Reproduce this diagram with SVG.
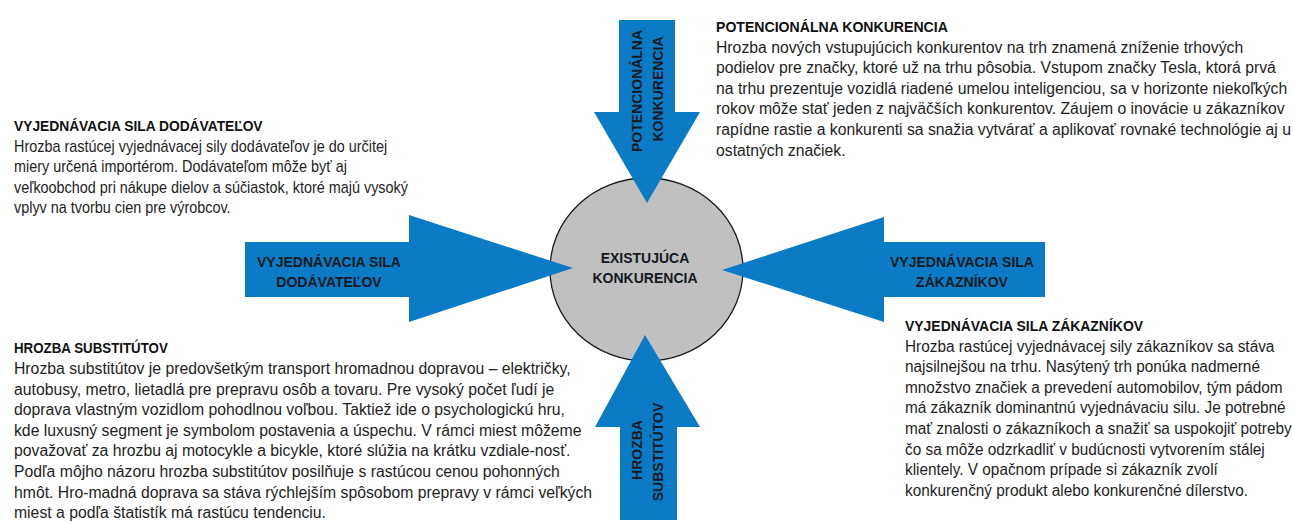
<svg xmlns="http://www.w3.org/2000/svg" width="1293" height="522" viewBox="0 0 1293 522">
<style>
.bg{fill:#ffffff}
.body{font-family:"Liberation Sans",Arial,sans-serif;font-size:16px;fill:#1e1e1e}
.title{font-family:"Liberation Sans",Arial,sans-serif;font-size:15.5px;font-weight:bold;fill:#111111}
.lbl{font-family:"Liberation Sans",Arial,sans-serif;font-size:14px;font-weight:bold;fill:#151a22;text-anchor:middle}
.arrow{fill:#0a7bc4}
.core{fill:#c0c0c0;stroke:#1a1a1a;stroke-width:1.3}
</style>
<rect class="bg" x="0" y="0" width="1293" height="522"/>

<g id="center-node">
<ellipse class="core" cx="646.5" cy="269.5" rx="96.5" ry="91.5"/>
<text class="lbl" x="645" y="263">EXISTUJÚCA</text>
<text class="lbl" x="645" y="283">KONKURENCIA</text>
</g>

<g id="connectors">
<g id="arrow-top">
<polygon class="arrow" points="619,20 675,20 675,112 700,112 647,203 594,112 619,112"/>
<text class="lbl" transform="translate(642,91) rotate(-90)">POTENCIONÁLNA</text>
<text class="lbl" transform="translate(663,89) rotate(-90)">KONKURENCIA</text>
</g>
<g id="arrow-left">
<polygon class="arrow" points="245,242 409,242 409,215 573,268 409,322 409,297 245,297"/>
<text class="lbl" x="329" y="267">VYJEDNÁVACIA SILA</text>
<text class="lbl" x="329" y="287">DODÁVATEĽOV</text>
</g>
<g id="arrow-right">
<polygon class="arrow" points="1045,242 884,242 884,217 722,270 884,322 884,297 1045,297"/>
<text class="lbl" x="962" y="267">VYJEDNÁVACIA SILA</text>
<text class="lbl" x="962" y="287">ZÁKAZNÍKOV</text>
</g>
<g id="arrow-bottom">
<polygon class="arrow" points="620,520 677,520 677,427 700,427 645,335 595,427 620,427"/>
<text class="lbl" transform="translate(642,450) rotate(-90)">HROZBA</text>
<text class="lbl" transform="translate(663,452) rotate(-90)">SUBSTITÚTOV</text>
</g>
</g>

<g id="text-potencialna">
<text class="title" x="716" y="32" transform="translate(716,0) scale(0.91,1) translate(-716,0)">POTENCIONÁLNA KONKURENCIA</text>
<g transform="translate(716,0) scale(0.985,1) translate(-716,0)">
<text class="body" x="716" y="52.6">Hrozba nových vstupujúcich konkurentov na trh znamená zníženie trhových</text>
<text class="body" x="716" y="73.2">podielov pre značky, ktoré už na trhu pôsobia. Vstupom značky Tesla, ktorá prvá</text>
<text class="body" x="716" y="93.8">na trhu prezentuje vozidlá riadené umelou inteligenciou, sa v horizonte niekoľkých</text>
<text class="body" x="716" y="114.4">rokov môže stať jeden z najväčších konkurentov. Záujem o inovácie u zákazníkov</text>
<text class="body" x="716" y="135">rapídne rastie a konkurenti sa snažia vytvárať a aplikovať rovnaké technológie aj u</text>
<text class="body" x="716" y="155.6">ostatných značiek.</text>
</g>
</g>

<g id="text-dodavatelia">
<text class="title" x="14" y="131" transform="translate(14,0) scale(0.89,1) translate(-14,0)">VYJEDNÁVACIA SILA DODÁVATEĽOV</text>
<g transform="translate(14,0) scale(0.9,1) translate(-14,0)">
<text class="body" x="14" y="151.6">Hrozba rastúcej vyjednávacej sily dodávateľov je do určitej</text>
<text class="body" x="14" y="172.2">miery určená importérom. Dodávateľom môže byť aj</text>
<text class="body" x="14" y="192.8">veľkoobchod pri nákupe dielov a súčiastok, ktoré majú vysoký</text>
<text class="body" x="14" y="213.4">vplyv na tvorbu cien pre výrobcov.</text>
</g>
</g>

<g id="text-substituty">
<text class="title" x="14" y="353.5" transform="translate(14,0) scale(0.86,1) translate(-14,0)">HROZBA SUBSTITÚTOV</text>
<g transform="translate(14,0) scale(0.985,1) translate(-14,0)">
<text class="body" x="14" y="374">Hrozba substitútov je predovšetkým transport hromadnou dopravou – električky,</text>
<text class="body" x="14" y="394.6">autobusy, metro, lietadlá pre prepravu osôb a tovaru. Pre vysoký počet ľudí je</text>
<text class="body" x="14" y="415.2">doprava vlastným vozidlom pohodlnou voľbou. Taktiež ide o psychologickú hru,</text>
<text class="body" x="14" y="435.8">kde luxusný segment je symbolom postavenia a úspechu. V rámci miest môžeme</text>
<text class="body" x="14" y="456.4">považovať za hrozbu aj motocykle a bicykle, ktoré slúžia na krátku vzdiale-nosť.</text>
<text class="body" x="14" y="477">Podľa môjho názoru hrozba substitútov posilňuje s rastúcou cenou pohonných</text>
<text class="body" x="14" y="497.6">hmôt. Hro-madná doprava sa stáva rýchlejším spôsobom prepravy v rámci veľkých</text>
<text class="body" x="14" y="518.2">miest a podľa štatistík má rastúcu tendenciu.</text>
</g>
</g>

<g id="text-zakaznici">
<text class="title" x="905" y="331" transform="translate(905,0) scale(0.9,1) translate(-905,0)">VYJEDNÁVACIA SILA ZÁKAZNÍKOV</text>
<g transform="translate(905,0) scale(0.96,1) translate(-905,0)">
<text class="body" x="905" y="351.6">Hrozba rastúcej vyjednávacej sily zákazníkov sa stáva</text>
<text class="body" x="905" y="372.2">najsilnejšou na trhu. Nasýtený trh ponúka nadmerné</text>
<text class="body" x="905" y="392.8">množstvo značiek a prevedení automobilov, tým pádom</text>
<text class="body" x="905" y="413.4">má zákazník dominantnú vyjednávaciu silu. Je potrebné</text>
<text class="body" x="905" y="434">mať znalosti o zákazníkoch a snažiť sa uspokojiť potreby</text>
<text class="body" x="905" y="454.6">čo sa môže odzrkadliť v budúcnosti vytvorením stálej</text>
<text class="body" x="905" y="475.2">klientely. V opačnom prípade si zákazník zvolí</text>
<text class="body" x="905" y="495.8">konkurenčný produkt alebo konkurenčné dílerstvo.</text>
</g>
</g>
</svg>
